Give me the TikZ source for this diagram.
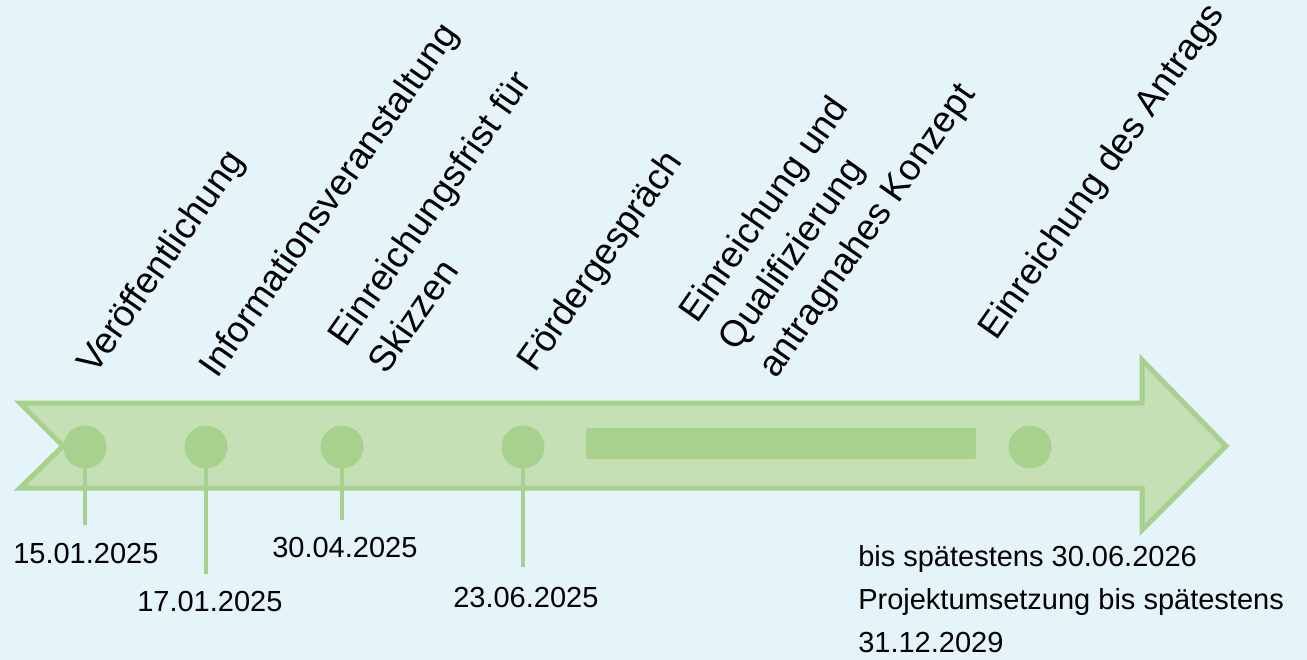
\documentclass[tikz,border=0pt]{standalone}
\usepackage{fontspec}
\setmainfont{Liberation Sans}
\begin{document}
\definecolor{bgblue}{RGB}{229,243,251}
\definecolor{arrowfill}{RGB}{197,224,180}
\definecolor{arrowline}{RGB}{169,209,142}
\begin{tikzpicture}[x=0.75pt,y=-0.75pt,
  dot/.style={circle,fill=arrowline,draw=none,minimum size=32.25pt,inner sep=0pt},
  stem/.style={draw=arrowline,line width=3pt},
  date/.style={inner sep=0pt,font=\fontsize{21.75}{31.9}\selectfont,text=black,anchor=base west},
  lab/.style={inner sep=0pt,font=\fontsize{27.5}{36}\selectfont,text=black,rotate=55,anchor=base west,align=left}]
  % canvas
  \fill[bgblue] (0,0) rectangle (1307,660);
  \useasboundingbox (0,0) rectangle (1307,660);

  % timeline arrow with notched tail
  \draw[fill=arrowfill,draw=arrowline,line width=3.75pt,line join=miter]
    (20,403) -- (1142,403) -- (1142,360) -- (1226,446) -- (1142,530)
    -- (1142,488) -- (20,488) -- (63,446) -- cycle;

  % phase bar
  \fill[arrowline,rounded corners=1.5pt] (586,428) rectangle (976,459);

  % milestones
  \node[dot] (c1) at (85,447) {};
  \node[dot] (c2) at (206,447) {};
  \node[dot] (c3) at (342,447) {};
  \node[dot] (c4) at (523,447) {};
  \node[dot] (c5) at (1030,447) {};

  \coordinate (s1) at (84,525);
  \coordinate (s2) at (206,574);
  \coordinate (s3) at (342,520);
  \coordinate (s4) at (523,567);
  \draw[stem] (c1.center) -- (c1.center |- s1);
  \draw[stem] (c2.center) -- (s2);
  \draw[stem] (c3.center) -- (s3);
  \draw[stem] (c4.center) -- (s4);

  % dates (the base of a multi-line node is its last line)
  \node[date] (d1) at (13,563) {15.01.2025};
  \node[date] (d2) at (137,611) {17.01.2025};
  \node[date] (d3) at (272,557) {30.04.2025};
  \node[date] (d4) at (453,607) {23.06.2025};
  \node[date,align=left] (d5) at (858,652)
    {bis spätestens 30.06.2026\\Projektumsetzung bis spätestens\\31.12.2029};

  % milestone titles
  \node[lab] (t1) at (95,376) {Veröffentlichung};
  \node[lab] (t2) at (217,380) {Informationsveranstaltung};
  \node[lab] (t3) at (386,376) {Einreichungsfrist für\\Skizzen};
  \node[lab] (t4) at (535,374) {Fördergespräch};
  \node[lab] (t5) at (776,380) {Einreichung und\\Qualifizierung\\antragnahes Konzept};
  \node[lab] (t6) at (996,342) {Einreichung des Antrags};
\end{tikzpicture}
\end{document}
